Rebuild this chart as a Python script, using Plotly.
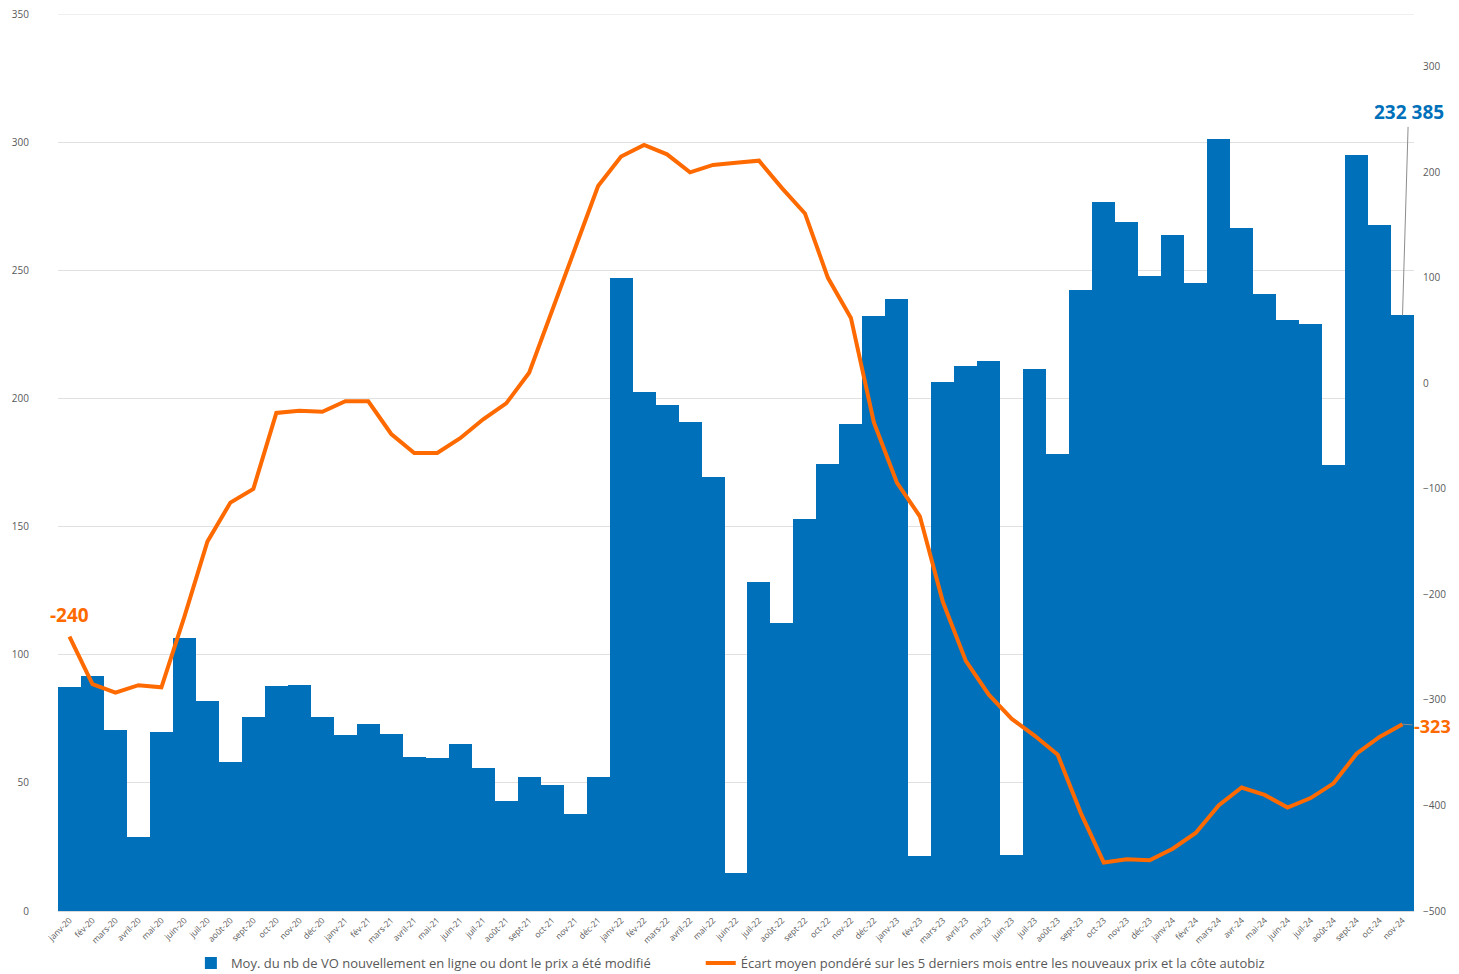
import plotly.graph_objects as go

months = [
    "janv-20", "fév-20", "mars-20", "avril-20", "mai-20", "juin-20", "juil-20", "août-20", "sept-20", "oct-20", "nov-20", "déc-20",
    "janv-21", "fév-21", "mars-21", "avril-21", "mai-21", "juin-21", "juil-21", "août-21", "sept-21", "oct-21", "nov-21", "déc-21",
    "janv-22", "fév-22", "mars-22", "avril-22", "mai-22", "juin-22", "juil-22", "août-22", "sept-22", "oct-22", "nov-22", "déc-22",
    "janv-23", "fév-23", "mars-23", "avril-23", "mai-23", "juin-23", "juil-23", "août-23", "sept-23", "oct-23", "nov-23", "déc-23",
    "janv-24", "févr-24", "mars-24", "avr-24", "mai-24", "juin-24", "juil-24", "août-24", "sept-24", "oct-24", "nov-24",
]

bars = [
    87.5, 91.7, 70.6, 28.9, 69.8, 106.5, 81.9, 58.1, 75.7, 87.8, 88.2, 75.7,
    68.7, 73.0, 69.1, 60.1, 59.7, 65.2, 55.8, 42.9, 52.3, 49.2, 37.8, 52.3,
    247.0, 202.5, 197.4, 190.8, 169.3, 14.8, 128.4, 112.4, 153.0, 174.6, 189.9, 232.3,
    238.8, 21.5, 206.4, 212.6, 214.5, 21.8, 211.5, 178.2, 242.3, 276.6, 268.8, 247.8,
    263.8, 245.0, 301.2, 266.5, 240.7, 230.6, 229.0, 174.0, 295.0, 267.7, 232.385,
]

ecart = [
    -240, -285, -293, -286, -288, -221, -150, -113, -100, -28, -26, -27,
    -17, -17, -48, -66, -66, -52, -34, -19, 10, 68, 128, 187,
    215, 226, 217, 200, 207, 209, 211, 185, 161, 100, 62, -37,
    -94, -126, -207, -263, -295, -318, -334, -352, -407, -454, -451, -452,
    -441, -426, -400, -383, -390, -402, -393, -379, -351, -335, -323,
]

bar_name = "Moy. du nb de VO nouvellement en ligne ou dont le prix a été modifié"
line_name = "Écart moyen pondéré sur les 5 derniers mois entre les nouveaux prix et la côte autobiz"

BLUE = "#0070BA"
ORANGE = "#FF6A00"
GREY = "#595959"
GRID = "#e0e0e0"
FONT = "Open Sans"

fig = go.Figure()
fig.add_trace(go.Bar(
    x=months, y=bars, name=bar_name, marker=dict(color=BLUE, line=dict(width=0)),
    yaxis="y", legend="legend",
))
fig.add_trace(go.Scatter(
    x=months, y=ecart, name=line_name, mode="lines",
    line=dict(color=ORANGE, width=4), yaxis="y2", legend="legend2",
))

# top gridline at the upper edge of the plot area
fig.add_shape(type="line", xref="paper", yref="y", x0=0, x1=1, y0=350, y1=350,
              line=dict(color=GRID, width=1), layer="below")

fig.add_annotation(
    x=months[0], y=ecart[0], yref="y2", text="<b>-240</b>", showarrow=False,
    yshift=22, font=dict(family=FONT, size=19, color=ORANGE),
)
fig.add_annotation(
    x=months[-1], y=bars[-1], yref="y", text="<b>232 385</b>", showarrow=True,
    arrowhead=0, arrowwidth=1, arrowcolor="#8c8c8c", ax=6, ay=-203,
    font=dict(family=FONT, size=19, color=BLUE),
)
fig.add_annotation(
    x=months[-1], y=ecart[-1], yref="y2", text="<b>-323</b>", showarrow=True,
    arrowhead=0, arrowwidth=1, arrowcolor="#8c8c8c", ax=30, ay=2,
    font=dict(family=FONT, size=18, color=ORANGE),
)

legend_common = dict(
    orientation="h", xanchor="left", y=-0.058, yanchor="middle",
    font=dict(family=FONT, size=13, color=GREY), itemwidth=30,
    bgcolor="rgba(0,0,0,0)",
)

fig.update_layout(
    width=1451, height=966,
    margin=dict(l=50, r=45, t=6, b=63, autoexpand=False),
    paper_bgcolor="white", plot_bgcolor="white",
    bargap=0,
    font=dict(family=FONT, color=GREY),
    showlegend=True,
    legend=dict(x=0.098, **legend_common),
    legend2=dict(x=0.474, **legend_common),
    xaxis=dict(
        type="category", range=[-0.5, len(months) - 0.5], tickangle=-45,
        tickfont=dict(family=FONT, size=8.5, color=GREY), showgrid=False,
        showline=True, linecolor="#d9d9d9", linewidth=1, ticks="", automargin=False,
    ),
    yaxis=dict(
        range=[0, 350], dtick=50, tick0=0, showgrid=True, gridcolor=GRID,
        gridwidth=1, zeroline=False, tickfont=dict(family=FONT, size=10, color=GREY),
        ticklabelstandoff=28, showline=False, automargin=False,
        ticklabeloverflow="allow",
    ),
    yaxis2=dict(
        overlaying="y", side="right", range=[-500, 350], tick0=-500, dtick=100,
        showgrid=False, zeroline=False, tickfont=dict(family=FONT, size=10, color=GREY),
        ticklabelstandoff=8, automargin=False, ticklabeloverflow="allow",
    ),
)

fig.write_html("out.html")
